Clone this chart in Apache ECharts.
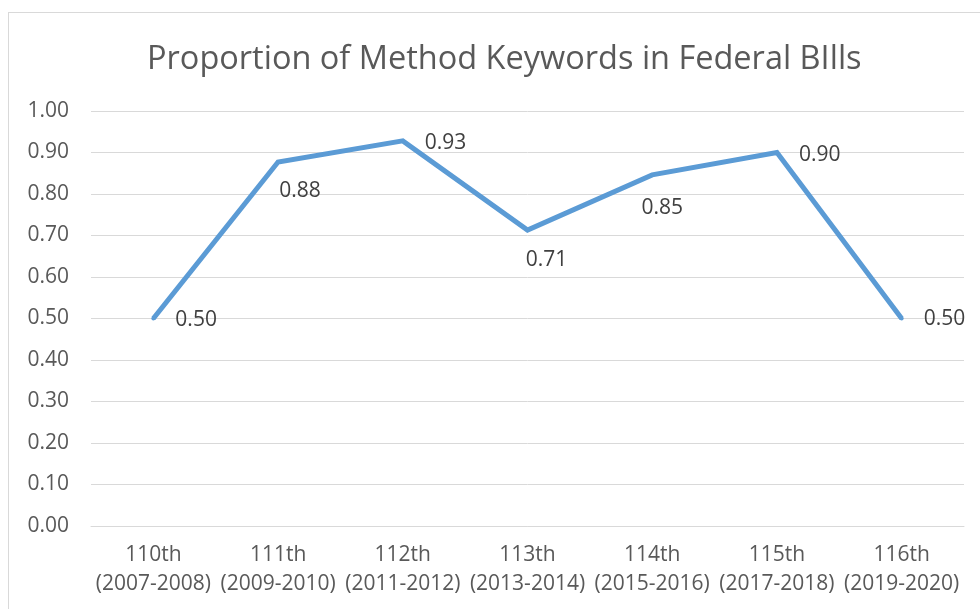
<!DOCTYPE html>
<html>
<head>
<meta charset="utf-8">
<script src="https://cdn.jsdelivr.net/npm/echarts@6/dist/echarts.min.js"></script>
<style>
  html, body { margin: 0; padding: 0; background: #fff; }
  #frame { position: absolute; left: 8px; top: 12px; width: 990px; height: 620px; border: 1px solid #d9d9d9; box-sizing: border-box; }
  #chart { position: absolute; left: 0; top: 0; width: 980px; height: 609px; }
</style>
</head>
<body>
<div id="frame"></div>
<div id="chart"></div>
<script>
var congresses = ['110th\n(2007-2008)', '111th\n(2009-2010)', '112th\n(2011-2012)', '113th\n(2013-2014)',
  '114th\n(2015-2016)', '115th\n(2017-2018)', '116th\n(2019-2020)'];
var proportions = [0.50, 0.877, 0.928, 0.713, 0.846, 0.90, 0.50];
// label placement per point (styling only)
var labelPlaces = ['right', 'bottom', 'right', 'bottom', 'bottom', 'right', 'right'];
var labelNudge = [[15, 2], [22, 11], [15, 2], [19, 12], [10, 16], [15, 3], [15, 1]];

var font = '"Open Sans", "Noto Sans", sans-serif';
var textColor = '#595959';

var seriesData = proportions.map(function (v, i) {
  return { value: v, label: { position: labelPlaces[i], offset: labelNudge[i] } };
});

var myChart = echarts.init(document.getElementById('chart'));
var option = {
  animation: false,
  title: {
    text: 'Proportion of Method Keywords in Federal BIlls',
    left: 142,
    top: 38,
    textStyle: { color: textColor, fontSize: 32.5, fontWeight: 'normal', fontFamily: font }
  },
  grid: { left: 91, right: 16, top: 111, bottom: 83 },
  xAxis: {
    type: 'category',
    data: congresses,
    axisTick: { show: false },
    axisLine: { lineStyle: { color: '#d9d9d9', width: 1 } },
    axisLabel: { color: textColor, fontSize: 21, fontFamily: font, lineHeight: 29, margin: 15, interval: 0 }
  },
  yAxis: {
    type: 'value',
    min: 0,
    max: 1,
    interval: 0.1,
    axisLine: { show: false },
    axisTick: { show: false },
    axisLabel: {
      color: textColor, fontSize: 21, fontFamily: font, margin: 22,
      formatter: function (v) { return v.toFixed(2); }
    },
    splitLine: { lineStyle: { color: '#d9d9d9', width: 1 } }
  },
  series: [{
    type: 'line',
    data: seriesData,
    symbol: 'circle',
    symbolSize: 4,
    showSymbol: true,
    itemStyle: { color: '#5b9bd5' },
    lineStyle: { color: '#5b9bd5', width: 5, join: 'miter' },
    label: {
      show: true,
      color: '#404040',
      fontSize: 21,
      fontFamily: font,
      formatter: function (p) { return p.value.toFixed(2); }
    }
  }]
};
myChart.setOption(option);
window.addEventListener('resize', function () { myChart.resize(); });
</script>
</body>
</html>
